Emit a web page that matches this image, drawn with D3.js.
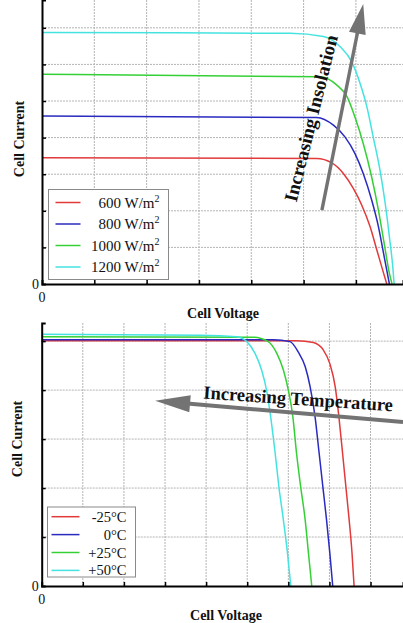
<!DOCTYPE html>
<html><head><meta charset="utf-8">
<script src="https://cdn.jsdelivr.net/npm/d3@7"></script>
<style>
body{margin:0;background:#fff}
svg{display:block}
text{font-family:"Liberation Serif","Times New Roman",serif;fill:#111}
</style>
</head><body>
<svg id="chart" width="403" height="623"></svg>
<script>
// ---------- DATA (grid units) ----------
// Top panel: I-V curves at different insolation levels
const insolationLabels = ["600", "800", "1000", "1200"];
const iv600 = [[0,3.45],[5.25,3.43],[5.54,3.31],[5.76,3.02],[5.95,2.61],[6.11,2.16],[6.27,1.57],[6.40,0.93],[6.53,0.29],[6.59,0]];
const iv800 = [[0,4.59],[5.25,4.55],[5.57,4.34],[5.79,4.02],[5.98,3.57],[6.14,3.02],[6.30,2.30],[6.43,1.57],[6.54,0.75],[6.64,0]];
const iv1000 = [[0,5.73],[5.32,5.66],[5.63,5.44],[5.83,5.12],[5.98,4.57],[6.14,3.84],[6.30,2.93],[6.43,2.02],[6.54,1.11],[6.64,0.29],[6.69,0]];
const iv1200 = [[0,6.87],[4.74,6.85],[5.38,6.76],[5.70,6.48],[5.92,6.07],[6.08,5.48],[6.21,4.84],[6.33,4.02],[6.46,3.11],[6.56,2.20],[6.64,1.29],[6.71,0.38],[6.73,0]];
const topGridX = [1,2,3,4,5,6];
const topGridY = [1,2,3,4,5,6,7];
const topDomainX = [0, 6.9];
const topDomainY = [0, 7.76];
const insolationArrow = {tail:[5.35,2.02], tip:[6.14,7.65], label:"Increasing Insolation", at:[5.14,4.53]};

// Bottom panel: I-V curves at different temperatures
const temperatureLabels = ["-25°C", "0°C", "+25°C", "+50°C"];
const ivM25 = [[0,5.01],[6.20,5.01],[6.61,4.97],[6.85,4.82],[7.01,4.54],[7.14,4.07],[7.23,3.46],[7.32,2.71],[7.40,2.03],[7.48,1.35],[7.55,0.67],[7.60,0]];
const iv0 = [[0,5.03],[5.64,5.03],[6.04,4.99],[6.24,4.78],[6.41,4.48],[6.53,4.07],[6.65,3.46],[6.75,2.71],[6.84,2.03],[6.93,1.35],[7.01,0.67],[7.08,0]];
const ivP25 = [[0,5.09],[5.15,5.08],[5.51,4.99],[5.72,4.75],[5.88,4.41],[6.00,4.00],[6.11,3.46],[6.20,2.71],[6.30,2.03],[6.41,1.35],[6.49,0.67],[6.57,0]];
const ivP50 = [[0,5.14],[3.85,5.12],[4.74,5.09],[4.99,4.99],[5.19,4.75],[5.35,4.41],[5.47,4.00],[5.57,3.46],[5.68,2.71],[5.77,2.03],[5.88,1.35],[5.98,0.67],[6.06,0]];
const botGridX = [1,2,3,4,5,6,7,8];
const botGridY = [1,2,3,4,5];
const botDomainX = [0, 8.79];
const botDomainY = [0, 5.37];
const temperatureArrow = {tail:[8.79,3.35], tip:[2.76,3.78], label:"Increasing Temperature", at:[6.24,3.82]};

const axisLabelX = "Cell Voltage";
const axisLabelY = "Cell Current";
const zeroLabel = "0";

// ---------- STYLE ----------
const seriesColors = ["#e23a3a", "#2a2ac0", "#35d035", "#45e3e0"];
const arrowColor = "#737373";

const svg = d3.select("#chart");

function panel(cfg) {
  const g = svg.append("g");
  const x = d3.scaleLinear().domain(cfg.domainX).range([cfg.left, cfg.right]);
  const y = d3.scaleLinear().domain(cfg.domainY).range([cfg.bottom, cfg.top]);

  // grid
  g.selectAll(".gx").data(cfg.gridX).join("line")
    .attr("x1", d => x(d)).attr("x2", d => x(d))
    .attr("y1", y(cfg.domainY[0])).attr("y2", y(cfg.domainY[1]))
    .attr("stroke", "#b4b4b4").attr("stroke-width", 1).attr("stroke-dasharray", "2,1");
  g.selectAll(".gy").data(cfg.gridY).join("line")
    .attr("y1", d => y(d)).attr("y2", d => y(d))
    .attr("x1", x(cfg.domainX[0])).attr("x2", x(cfg.domainX[1]))
    .attr("stroke", "#b4b4b4").attr("stroke-width", 1).attr("stroke-dasharray", "2,1");

  // curves
  const line = d3.line().x(d => x(d[0])).y(d => y(d[1])).curve(d3.curveMonotoneX);
  cfg.series.forEach((s, i) => {
    g.append("path").attr("d", line(s)).attr("fill", "none")
      .attr("stroke", seriesColors[i]).attr("stroke-width", 1.5);
  });

  // axes
  const xAxis = d3.axisBottom(x).tickValues(cfg.gridX).tickSize(-4).tickFormat("");
  const yAxis = d3.axisLeft(y).tickValues(cfg.gridY).tickSize(-4).tickFormat("");
  const ga = g.append("g").attr("transform", `translate(0,${y(0)})`).call(xAxis);
  const gb = g.append("g").attr("transform", `translate(${x(0)},0)`).call(yAxis);
  [ga, gb].forEach(a => {
    a.select(".domain").attr("stroke", "#000").attr("stroke-width", 2);
    a.selectAll(".tick line").attr("stroke", "#000").attr("stroke-width", 1.5);
  });

  // zero labels
  g.append("text").attr("x", x(0) - 3).attr("y", y(0) + 5).attr("text-anchor", "end")
    .attr("font-size", 14).text(zeroLabel);
  g.append("text").attr("x", x(0)).attr("y", y(0) + 18).attr("text-anchor", "middle")
    .attr("font-size", 14).text(zeroLabel);

  // axis titles
  g.append("text").attr("x", cfg.xTitle[0]).attr("y", cfg.xTitle[1])
    .attr("text-anchor", "middle").attr("font-size", 14).attr("font-weight", "bold").text(axisLabelX);
  g.append("text").attr("transform", `translate(${cfg.yTitle[0]},${cfg.yTitle[1]}) rotate(-90)`)
    .attr("text-anchor", "middle").attr("dominant-baseline", "central")
    .attr("font-size", 14).attr("font-weight", "bold").text(axisLabelY);

  // legend
  const L = cfg.legend;
  const lg = g.append("g");
  lg.append("rect").attr("x", L.x).attr("y", L.y).attr("width", L.w).attr("height", L.h)
    .attr("fill", "#fff").attr("stroke", "#8a8a8a").attr("stroke-width", 1);
  L.labels.forEach((lab, i) => {
    const cy = L.y + L.first + i * L.step;
    lg.append("line").attr("x1", L.x + L.lx1).attr("x2", L.x + L.lx2).attr("y1", cy).attr("y2", cy)
      .attr("stroke", seriesColors[i]).attr("stroke-width", 1.5);
    const t = lg.append("text").attr("x", L.x + L.tx).attr("y", cy + 5)
      .attr("text-anchor", "end").attr("font-size", L.fs);
    if (L.unit) {
      t.append("tspan").text(lab + " W/m");
      t.append("tspan").attr("dy", -6).attr("font-size", 10).text("2");
    } else {
      t.text(lab);
    }
  });

  // arrow annotation
  const A = cfg.arrow;
  const p0 = [x(A.tail[0]), y(A.tail[1])], p1 = [x(A.tip[0]), y(A.tip[1])];
  const dx = p1[0] - p0[0], dy = p1[1] - p0[1], len = Math.hypot(dx, dy);
  const u = [dx / len, dy / len], n = [-u[1], u[0]];
  const base = [p1[0] - u[0] * cfg.headLen, p1[1] - u[1] * cfg.headLen];
  const w = cfg.shaftW / 2, hw = cfg.headW / 2;
  const pts = [
    [p0[0] + n[0] * w, p0[1] + n[1] * w],
    [base[0] + n[0] * w, base[1] + n[1] * w],
    [base[0] + n[0] * hw, base[1] + n[1] * hw],
    p1,
    [base[0] - n[0] * hw, base[1] - n[1] * hw],
    [base[0] - n[0] * w, base[1] - n[1] * w],
    [p0[0] - n[0] * w, p0[1] - n[1] * w]
  ];
  g.append("path").attr("d", d3.line()(pts) + "Z").attr("fill", arrowColor);
  g.append("text")
    .attr("transform", `translate(${x(A.at[0])},${y(A.at[1])}) rotate(${cfg.textAngle})`)
    .attr("text-anchor", "middle").attr("dominant-baseline", "central")
    .attr("font-size", cfg.textSize).attr("font-weight", "bold").text(A.label);
}

panel({
  left: 42, right: 403, top: 0, bottom: 284,
  domainX: topDomainX, domainY: topDomainY, gridX: topGridX, gridY: topGridY,
  series: [iv600, iv800, iv1000, iv1200],
  xTitle: [223, 318], yTitle: [19, 139],
  legend: {x: 48.5, y: 189.5, w: 120, h: 90, first: 13, step: 21.5, lx1: 7, lx2: 32, tx: 111, fs: 15,
           labels: insolationLabels, unit: true},
  arrow: insolationArrow, headLen: 30, headW: 17, shaftW: 3.4, textAngle: -76, textSize: 19
});

panel({
  left: 41.7, right: 403, top: 323, bottom: 586,
  domainX: botDomainX, domainY: botDomainY, gridX: botGridX, gridY: botGridY,
  series: [ivM25, iv0, ivP25, ivP50],
  xTitle: [226, 620], yTitle: [17.5, 439],
  legend: {x: 47.5, y: 507, w: 88, h: 70, first: 9.7, step: 17.9, lx1: 4, lx2: 32, tx: 79, fs: 14.5,
           labels: temperatureLabels, unit: false},
  arrow: temperatureArrow, headLen: 35, headW: 17, shaftW: 4, textAngle: 3.8, textSize: 18.5
});
</script>
</body></html>
